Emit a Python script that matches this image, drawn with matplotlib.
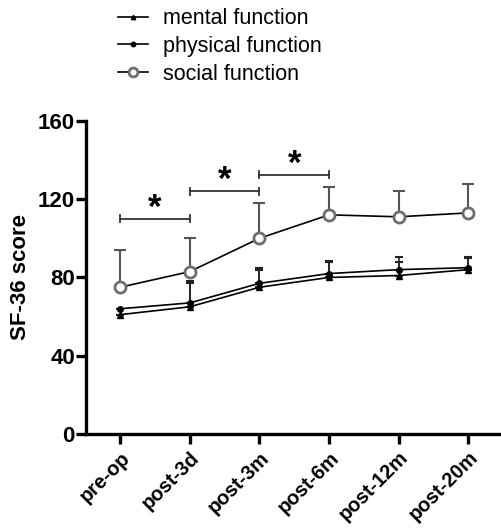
import matplotlib
matplotlib.use("Agg")
import matplotlib.pyplot as plt
import numpy as np

plt.rcParams['font.family'] = ['Liberation Sans', 'DejaVu Sans']

categories = ["pre-op", "post-3d", "post-3m", "post-6m", "post-12m", "post-20m"]
mental = [61, 65, 75, 80, 81, 84]
mental_err = [0, 12, 9, 8, 7, 6]
physical = [64, 67, 77, 82, 84, 85]
physical_err = [0, 11, 8, 6.5, 6.5, 5.5]
social = [75, 83, 100, 112, 111, 113]
social_err = [19, 17, 18, 14, 13, 15]
brackets = [(0, 1, 110), (1, 2, 124), (2, 3, 132.5)]

fig = plt.figure(figsize=(5.01, 5.28), dpi=100)
ax = fig.add_axes([0.1717, 0.178, 0.8283, 0.593])
x = np.arange(len(categories))

# error bars (upper only)
ax.errorbar(x, social, yerr=[np.zeros(len(x)), social_err], fmt='none',
            ecolor='#555555', elinewidth=1.5, capsize=4, capthick=1.5, zorder=2)
ax.errorbar(x, physical, yerr=[np.zeros(len(x)), physical_err], fmt='none',
            ecolor='#222222', elinewidth=1.2, capsize=3, capthick=1.5, zorder=2)
ax.errorbar(x, mental, yerr=[np.zeros(len(x)), mental_err], fmt='none',
            ecolor='#222222', elinewidth=1.2, capsize=3, capthick=1.5, zorder=2)

ax.plot(x, mental, color='black', lw=1.2, marker='^', ms=4, mfc='black', mec='black',
        label='mental function', zorder=3)
ax.plot(x, physical, color='black', lw=1.2, marker='o', ms=4, mfc='black', mec='black',
        label='physical function', zorder=3)
ax.plot(x, social, color='black', lw=1.2, marker='o', ms=8, mfc='white', mec='#6e6e6e',
        mew=2, label='social function', zorder=4)

for a, b, yv in brackets:
    ax.plot([a, b], [yv, yv], color='#333333', lw=1.3, zorder=2)
    ax.plot([a, a], [yv - 1.8, yv + 1.8], color='#333333', lw=1.3)
    ax.plot([b, b], [yv - 1.8, yv + 1.8], color='#333333', lw=1.3)
    ax.text((a + b) / 2, yv + 5.5, '*', ha='center', va='center', fontsize=25,
            fontweight='bold')

ax.set_xlim(-0.49, 5.47)
ax.set_ylim(0, 160)
ax.set_yticks([0, 40, 80, 120, 160])
ax.set_xticks(x)
ax.set_xticklabels(categories, rotation=45, ha='right', rotation_mode='anchor',
                   fontsize=14.5, fontweight='bold')
for lbl in ax.get_yticklabels():
    lbl.set_fontsize(16)
    lbl.set_fontweight('bold')
ax.tick_params(axis='both', width=2.4, length=7, pad=1)
ax.tick_params(axis='x', pad=3)
for s in ['top', 'right']:
    ax.spines[s].set_visible(False)
for s in ['left', 'bottom']:
    ax.spines[s].set_linewidth(2.4)
ax.set_ylabel('SF-36 score', fontsize=16, fontweight='bold', labelpad=5)

fig.legend(loc='upper left', bbox_to_anchor=(0.196, 1.021), frameon=False,
           fontsize=15.5, handlelength=1.4, labelspacing=0.31, handletextpad=0.7,
           markerscale=0.8)

fig.savefig('out.png', dpi=100)
